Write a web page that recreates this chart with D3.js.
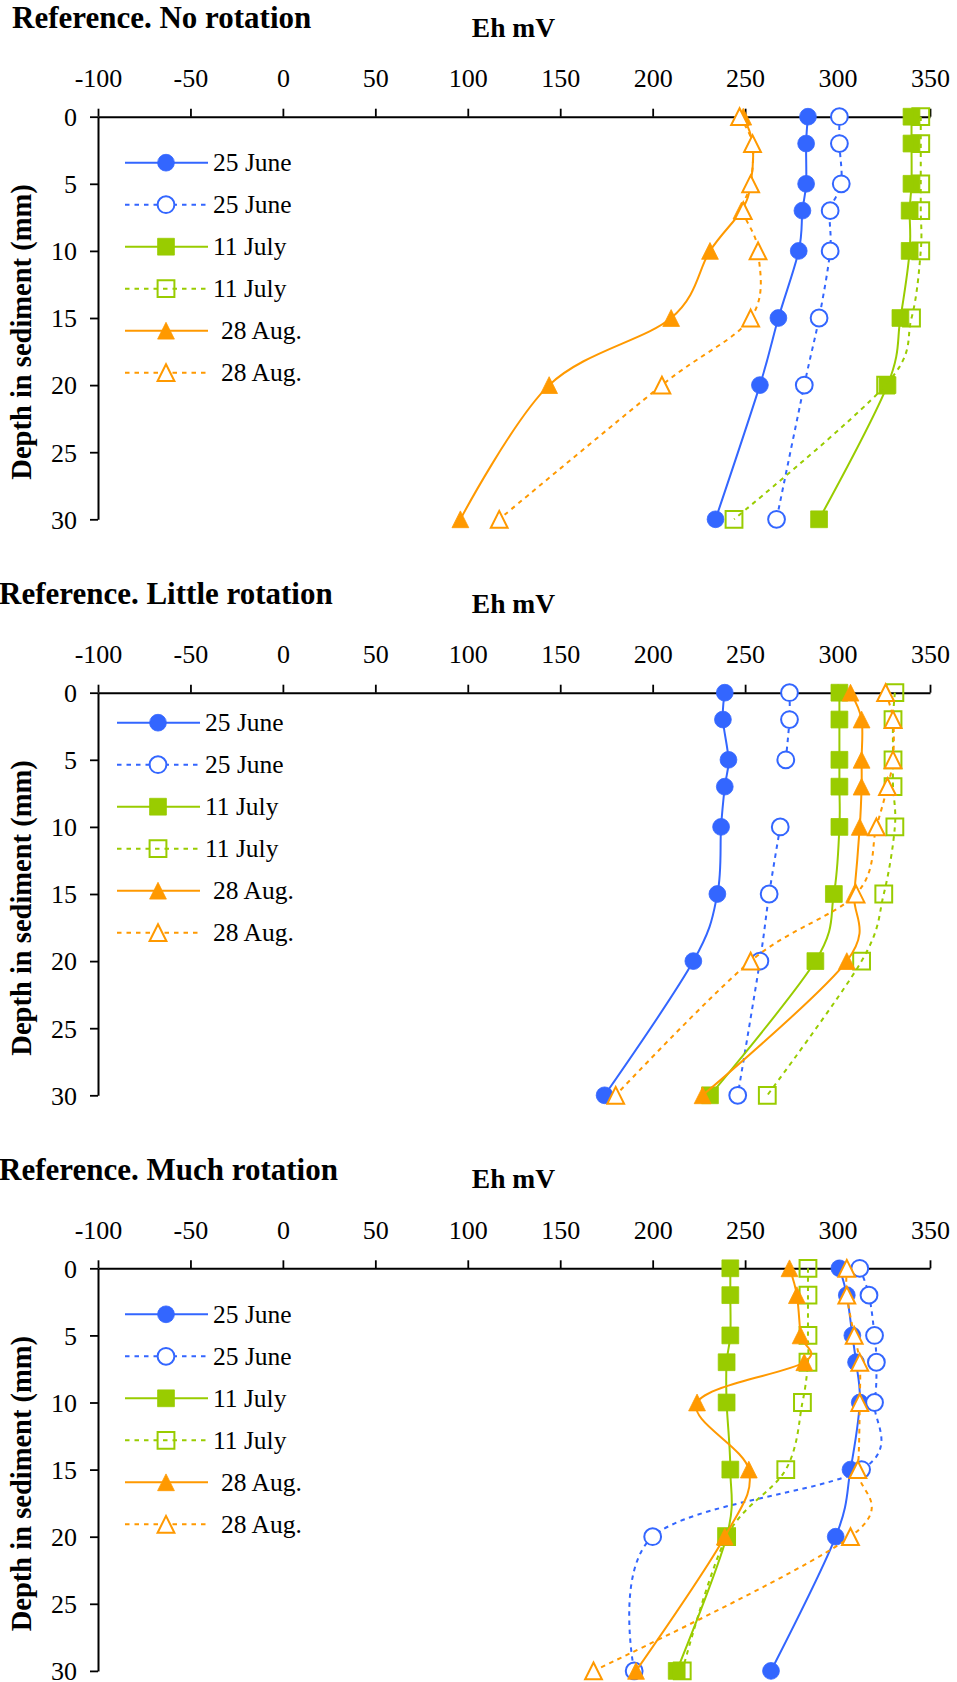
<!DOCTYPE html>
<html><head><meta charset="utf-8">
<script src="https://cdn.jsdelivr.net/npm/d3@7"></script>
<style>
body{margin:0;background:#fff}
svg{display:block}
text{font-family:"Liberation Serif","Times New Roman",Times,serif;fill:#000}
</style>
</head><body>
<svg id="chart" width="957" height="1682"></svg>
<script>
// ---------------- DATA ----------------
const depths = [0, 2, 5, 7, 10, 15, 20, 30];
const xTicks = [-100, -50, 0, 50, 100, 150, 200, 250, 300, 350];
const yTicks = [0, 5, 10, 15, 20, 25, 30];
const chartTitles = ["Reference. No rotation", "Reference. Little rotation", "Reference. Much rotation"];
const xAxisTitle = "Eh mV";
const yAxisTitle = "Depth in sediment (mm)";
const seriesLabels = ["25 June", "25 June", "11 July", "11 July", "28 Aug.", "28 Aug."];

// No rotation
const noJuneSolid   = [284, 283, 283, 281, 279, 268, 258, 234];
const noJuneDotted  = [301, 301, 302, 296, 296, 290, 282, 267];
const noJulySolid   = [340, 340, 340, 339, 339, 334, 327, 290];
const noJulyDotted  = [345, 345, 345, 345, 345, 340, 326, 244];
const noAugSolid    = [249, 254, 253, 248, 231, 210, 144, 96];
const noAugDotted   = [247, 254, 253, 249, 257, 253, 205, 117];
// Little rotation
const littleJuneSolid  = [239, 238, 241, 239, 237, 235, 222, 174];
const littleJuneDotted = [274, 274, 272, null, 269, 263, 258, 246];
const littleJulySolid  = [301, 301, 301, 301, 301, 298, 288, 231];
const littleJulyDotted = [331, 330, 330, 330, 331, 325, 313, 262];
const littleAugSolid   = [307, 313, 313, 313, 312, 309, 305, 227];
const littleAugDotted  = [326, 330, 330, 327, 321, 310, 253, 180];
// Much rotation
const muchJuneSolid  = [301, 305, 308, 310, 312, 307, 299, 264];
const muchJuneDotted = [312, 317, 320, 321, 320, 313, 200, 190];
const muchJulySolid  = [242, 242, 242, 240, 240, 242, 240, 213];
const muchJulyDotted = [284, 284, 284, 284, 281, 272, 240, 216];
const muchAugSolid   = [274, 278, 280, 282, 224, 252, 239, 191];
const muchAugDotted  = [305, 305, 309, 312, 312, 311, 307, 168];

// ---------------- STYLE / LAYOUT ----------------
const seriesColor  = ["#3366FF", "#3366FF", "#99CC00", "#99CC00", "#FF9900", "#FF9900"];
const seriesDashed = [false, true, false, true, false, true];
const seriesShape  = ["circle", "circle", "square", "square", "triangle", "triangle"];
const seriesFilled = [true, false, true, false, true, false];

const charts = [
  { title: chartTitles[0], titleX: 12, top: 116.7, legend: {x1: 125, x2: 208, mx: 166, tx: 213, txAug: 221, y0: 46},
    series: [noJuneSolid, noJuneDotted, noJulySolid, noJulyDotted, noAugSolid, noAugDotted] },
  { title: chartTitles[1], titleX: -1, top: 692.7, legend: {x1: 117, x2: 200, mx: 158, tx: 205, txAug: 213, y0: 30},
    series: [littleJuneSolid, littleJuneDotted, littleJulySolid, littleJulyDotted, littleAugSolid, littleAugDotted] },
  { title: chartTitles[2], titleX: -1, top: 1268.3, legend: {x1: 125, x2: 208, mx: 166, tx: 213, txAug: 221, y0: 46},
    series: [muchJuneSolid, muchJuneDotted, muchJulySolid, muchJulyDotted, muchAugSolid, muchAugDotted] }
];

const svg = d3.select("#chart");
svg.append("rect").attr("width", 957).attr("height", 1682).attr("fill", "#fff");

const plotLeft = 98, plotRight = 930, plotH = 402.6;
const MS = 16.8; // marker size (px)

function markerPath(shape) {
  const h = MS / 2;
  if (shape === "circle") return d3.symbol().type(d3.symbolCircle).size(Math.PI * h * h)();
  if (shape === "square") return `M${-h},${-h}H${h}V${h}H${-h}Z`;
  return `M0,${-h}L${h},${h}L${-h},${h}Z`;
}

function drawMarker(g, shape, filled, color, cx, cy) {
  g.append("path")
    .attr("d", markerPath(shape))
    .attr("transform", `translate(${cx},${cy})`)
    .attr("fill", filled ? color : (shape === "square" ? "none" : "#fff"))
    .attr("stroke", color)
    .attr("stroke-width", filled ? 0.8 : 2);
}

charts.forEach(ch => {
  const top = ch.top;
  const x = d3.scaleLinear().domain([-100, 350]).range([plotLeft, plotRight]);
  const y = d3.scaleLinear().domain([0, 30]).range([top, top + plotH]);
  const g = svg.append("g");

  // titles
  g.append("text").attr("x", ch.titleX).attr("y", top - 88.4)
    .attr("font-size", 31).attr("font-weight", "bold").text(ch.title);
  g.append("text").attr("x", 513.5).attr("y", top - 80)
    .attr("text-anchor", "middle").attr("font-size", 27.5).attr("font-weight", "bold").text(xAxisTitle);
  g.append("text")
    .attr("transform", `translate(30.7,${top + plotH / 2 + 14}) rotate(-90)`)
    .attr("text-anchor", "middle").attr("font-size", 28.5).attr("font-weight", "bold").text(yAxisTitle);

  // x axis (top)
  const xa = g.append("g").attr("transform", `translate(0,${top})`)
    .call(d3.axisTop(x).tickValues(xTicks).tickSize(8).tickSizeOuter(0).tickPadding(21.5).tickFormat(d3.format("d")));
  // y axis
  const ya = g.append("g").attr("transform", `translate(${plotLeft},0)`)
    .call(d3.axisLeft(y).tickValues(yTicks).tickSize(8).tickSizeOuter(0).tickPadding(13).tickFormat(d3.format("d")));
  [xa, ya].forEach(a => {
    a.select(".domain").attr("stroke", "#000").attr("stroke-width", 2);
    a.selectAll(".tick line").attr("stroke", "#000").attr("stroke-width", 1.8);
    a.selectAll(".tick text").attr("font-size", 26).attr("font-family", "'Liberation Serif','Times New Roman',serif").attr("fill", "#000");
  });
  ya.selectAll(".tick text").attr("dy", "0.34em");
  xa.selectAll(".tick text").text(d => d < 0 ? "-" + Math.abs(d) : d);

  // series
  const line = d3.line()
    .defined(d => d.v != null)
    .x(d => x(d.v)).y(d => y(d.d))
    .curve(d3.curveCardinal.tension(0));
  ch.series.forEach((vals, si) => {
    const pts = vals.map((v, i) => ({ v: v, d: depths[i] }));
    const sg = g.append("g");
    sg.append("path").datum(pts).attr("d", line)
      .attr("fill", "none").attr("stroke", seriesColor[si])
      .attr("stroke-width", 2)
      .attr("stroke-dasharray", seriesDashed[si] ? "4.5,4.5" : null);
    pts.filter(p => p.v != null).forEach(p =>
      drawMarker(sg, seriesShape[si], seriesFilled[si], seriesColor[si], x(p.v), y(p.d)));
  });

  // legend
  const L = ch.legend;
  seriesLabels.forEach((lab, si) => {
    const ry = top + L.y0 + si * 42;
    const lg = g.append("g");
    lg.append("line").attr("x1", L.x1).attr("x2", L.x2).attr("y1", ry).attr("y2", ry)
      .attr("stroke", seriesColor[si]).attr("stroke-width", 2)
      .attr("stroke-dasharray", seriesDashed[si] ? "4.5,5" : null);
    drawMarker(lg, seriesShape[si], seriesFilled[si], seriesColor[si], L.mx, ry);
    lg.append("text").attr("x", lab.indexOf("Aug") >= 0 ? L.txAug : L.tx).attr("y", ry + 8.5)
      .attr("font-size", 25.5).text(lab);
  });
});
</script>
</body></html>
